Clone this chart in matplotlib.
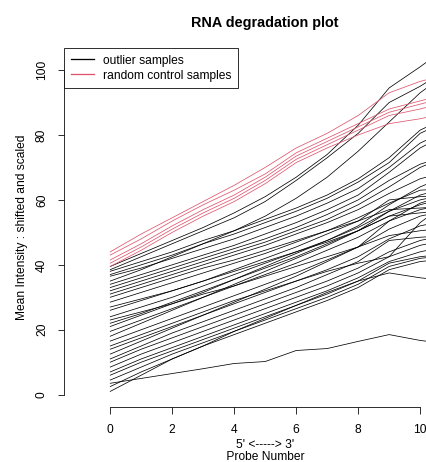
import matplotlib
matplotlib.use("Agg")
import matplotlib.pyplot as plt

plt.rcParams['font.family'] = ['Liberation Sans', 'DejaVu Sans']

probe_number = [0, 1, 2, 3, 4, 5, 6, 7, 8, 9, 10, 11]

# mean intensities, shifted and scaled
outlier_samples = [
    [39.5, 43.5, 47.5, 51.5, 56, 61, 67, 74, 83, 94.5, 101, 108],
    [38.5, 42.5, 46.5, 50.5, 54.5, 59.5, 66, 73, 80.5, 90, 95, 101],
    [35, 38.5, 42.5, 46.5, 50.5, 55, 60.5, 67, 75, 84, 93, 100],
    [38, 41, 44, 47.5, 50.5, 54, 57.5, 61.5, 66.5, 73, 81.5, 86],
    [37, 40, 43, 46.5, 49.5, 53, 56.5, 60.5, 65.5, 71.5, 80.5, 85],
    [36.5, 39, 42, 45, 48, 51.5, 55, 59, 63.5, 70, 77.5, 82],
    [34, 37, 40, 43, 46, 49.5, 53, 57, 61.5, 68.5, 76, 81],
    [33, 36, 39, 42, 45, 48, 51.5, 55.5, 60, 66, 71, 74],
    [32, 35, 38, 41, 44, 47, 50.5, 54, 58.5, 64, 70, 74],
    [31, 34, 37, 40, 43, 46, 49.5, 53, 57, 62, 66.5, 69],
    [30, 33, 36, 39, 41.5, 44.5, 47.5, 50.5, 53.5, 57, 57.5, 58],
    [28.5, 31.5, 34.5, 37.5, 40.5, 43.5, 47, 50.5, 54.5, 59, 63, 63.5],
    [27, 29.5, 32, 35, 38, 41, 44, 47, 50.5, 55, 56, 57],
    [26, 29, 32, 35, 38.5, 42, 45.5, 49.5, 53.5, 60, 61, 61.5],
    [24, 27, 30, 33.5, 37, 40.5, 44, 47.5, 51.5, 56.5, 60, 62],
    [23, 25.5, 28, 31, 33.5, 36.5, 39.5, 42.5, 45.5, 49, 50.5, 51.5],
    [22, 25, 28.5, 32, 35.5, 39, 42.5, 46.5, 50.5, 55, 58.5, 61],
    [21, 24.5, 28, 31.5, 35.5, 39.5, 43.5, 47.5, 52, 58.5, 64, 68],
    [19.5, 23, 26.5, 30, 33.5, 37, 40.5, 44.5, 48.5, 53.5, 57, 59],
    [18, 22, 26, 30, 34, 38, 42, 46, 50.5, 56.5, 61.5, 64],
    [16.5, 20, 23.5, 27, 30.5, 34, 37.5, 41.5, 45.5, 51, 55, 57],
    [15, 18.5, 22, 25.5, 29, 32, 35, 38, 40.5, 42.5, 53, 60],
    [14, 17.5, 21, 24.5, 28, 31.5, 35, 38.5, 42.5, 48, 52, 54],
    [12.5, 16.5, 20.5, 24.5, 28.5, 32.5, 36.5, 41, 45.5, 53.5, 59, 62],
    [11, 15, 19, 22.5, 26, 29.5, 33, 37, 41, 47.5, 48.5, 49],
    [10, 14, 17.5, 21, 24.5, 28, 31.5, 35, 39, 44, 47.5, 49.5],
    [8.5, 12.5, 16, 19.5, 23, 26.5, 30, 33.5, 37.5, 42.5, 46, 48],
    [7, 11, 14.5, 18, 21.5, 25, 28.5, 32, 36, 41, 44, 46],
    [6, 10, 13.5, 17, 20.5, 24, 27.5, 31, 35, 40.5, 42.5, 43.5],
    [4.5, 8.5, 12.5, 16, 19.5, 23, 26.5, 30, 34, 39.5, 42, 43],
    [2.5, 7, 11, 15, 18.5, 22, 25.5, 29, 33, 38.5, 41, 42],
    [1, 6, 11, 15, 19.5, 23.5, 27.5, 31.5, 35, 37.5, 36, 35],
    [3.5, 5, 6.5, 8, 9.6, 10.2, 13.6, 14.2, 16.4, 18.5, 16.7, 15.5],
]

control_samples = [
    [44, 49.5, 54.5, 59.5, 64.5, 70, 76, 80.5, 86, 93, 96.5, 99],
    [43, 48, 53.5, 58.5, 63, 68, 74.5, 79, 83.5, 88, 90.5, 93],
    [41.5, 46.5, 52, 57, 61.5, 67, 73.5, 78, 82.5, 87, 89.5, 92],
    [40.5, 45.5, 51, 56, 60.5, 66, 72.5, 77, 81.5, 86, 88, 90.5],
    [39.5, 44.5, 50, 55, 59.5, 65, 71.5, 76, 80, 83.5, 85, 87],
]

red = '#DF536B'

fig = plt.figure(figsize=(426 / 72, 462 / 72), dpi=72)
ax = fig.add_axes([64.4 / 426, 1 - 407.3 / 462, (466 - 64.4) / 426, (407.3 - 48) / 462])

for i, s in enumerate(outlier_samples):
    ax.plot(probe_number, s, color='black', lw=0.75,
            label='outlier samples' if i == 0 else None)
for i, s in enumerate(control_samples):
    ax.plot(probe_number, s, color=red, lw=0.75,
            label='random control samples' if i == 0 else None)

ax.set_xlim(-1.48, 11.48)
ax.set_ylim(-3.9, 106.8)

for side in ['top', 'right']:
    ax.spines[side].set_visible(False)
ax.spines['left'].set_bounds(0, 100)
ax.spines['bottom'].set_bounds(0, 10)
ax.spines['left'].set_linewidth(0.8)
ax.spines['bottom'].set_linewidth(0.8)

ax.set_xticks([0, 2, 4, 6, 8, 10])
ax.set_yticks([0, 20, 40, 60, 80, 100])
ax.tick_params(direction='out', length=6.5, width=0.8, labelsize=12, pad=10)
for lab in ax.get_yticklabels():
    lab.set_rotation(90)
    lab.set_va('center')

ax.set_title('RNA degradation plot', fontsize=14.4, fontweight='bold', pad=21)
ax.set_xlabel("5' <-----> 3'\n Probe Number ", fontsize=12, labelpad=3, linespacing=1.05)
ax.set_ylabel('Mean Intensity : shifted and scaled', fontsize=12, labelpad=8)

leg = ax.legend(loc='upper left', bbox_to_anchor=(0, 1), borderaxespad=0,
                fancybox=False, edgecolor='black', framealpha=1, fontsize=12,
                handlelength=1.9, handletextpad=0.8, borderpad=0.55, labelspacing=0.25)
leg.get_frame().set_linewidth(0.8)
for h in leg.legend_handles:
    h.set_linewidth(1.3)

fig.savefig('out.png', dpi=72)
